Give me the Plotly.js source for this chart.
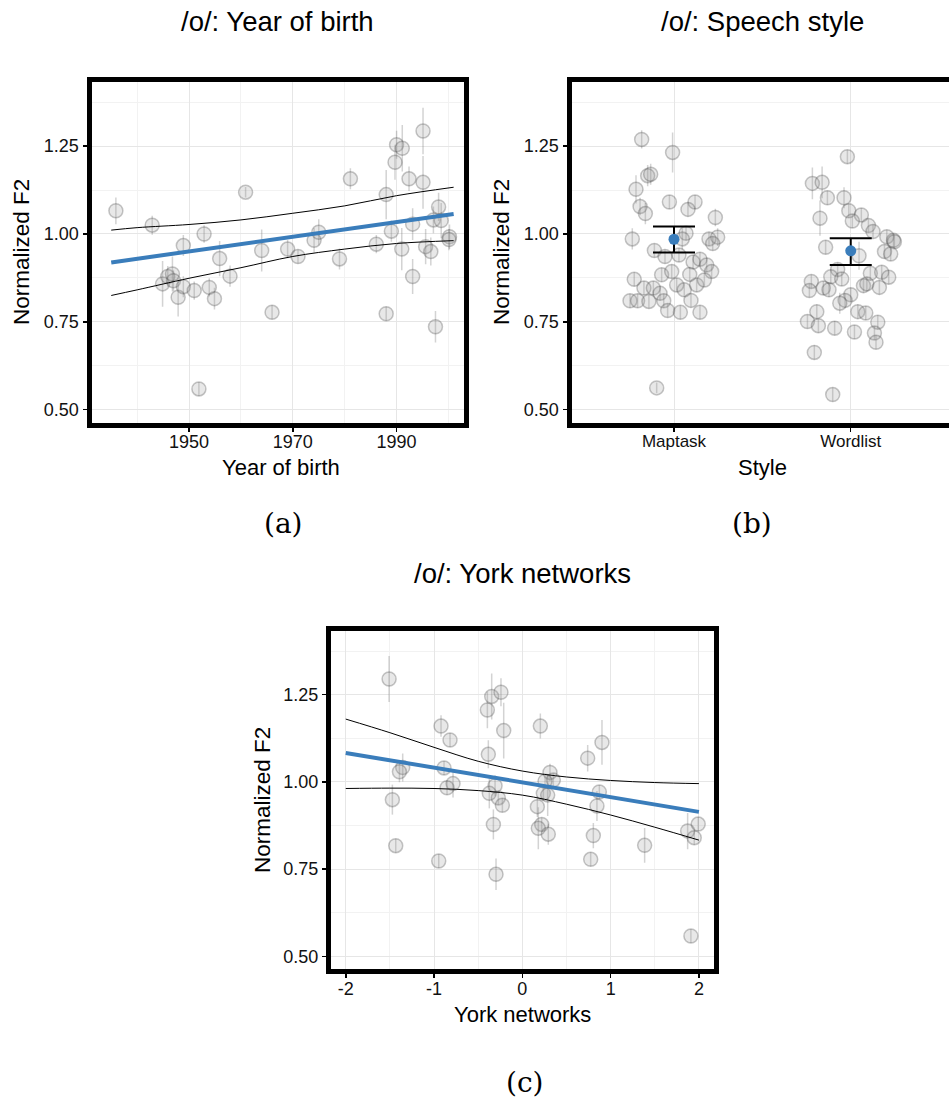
<!DOCTYPE html>
<html>
<head>
<meta charset="utf-8">
<script src="https://cdn.plot.ly/plotly-3.0.1.min.js"></script>
<style>html,body{margin:0;padding:0;background:#fff}#chart{width:949px;height:1102px}</style>
</head>
<body>
<div id="chart"></div>
<script>
// ---------- Panel (a): Year of birth ----------
const yobYear = [1935.9, 1942.9, 1944.9, 1945.9, 1946.8, 1947.0, 1947.9, 1948.9, 1948.9, 1951.0,
  1951.9, 1952.9, 1953.9, 1954.9, 1955.9, 1957.9, 1960.9, 1964.0, 1966.0, 1969.0,
  1971.0, 1974.1, 1975.0, 1979.0, 1981.1, 1986.1, 1988.0, 1988.0, 1989.0, 1989.7,
  1990.0, 1991.1, 1991.0, 1992.4, 1993.1, 1993.1, 1995.1, 1995.1, 1995.6, 1996.6,
  1997.1, 1997.5, 1998.1, 1998.6, 2000.2, 2000.1];
const yobF2 = [1.066, 1.025, 0.858, 0.879, 0.886, 0.867, 0.820, 0.967, 0.850, 0.839,
  0.559, 1.000, 0.848, 0.816, 0.930, 0.880, 1.119, 0.953, 0.777, 0.957,
  0.936, 0.982, 1.005, 0.929, 1.157, 0.971, 1.112, 0.773, 1.008, 1.204,
  1.254, 1.244, 0.957, 1.157, 1.028, 0.879, 1.293, 1.147, 0.964, 0.950,
  1.040, 0.736, 1.077, 1.038, 0.992, 0.984];
const yobErr = [0.038, 0.027, 0.065, 0.030, 0.050, 0.030, 0.055, 0.030, 0.030, 0.026,
  0.020, 0.025, 0.026, 0.031, 0.050, 0.030, 0.015, 0.060, 0.020, 0.026,
  0.020, 0.035, 0.037, 0.030, 0.030, 0.026, 0.070, 0.020, 0.030, 0.050,
  0.040, 0.066, 0.060, 0.035, 0.045, 0.050, 0.066, 0.075, 0.050, 0.040,
  0.038, 0.045, 0.040, 0.050, 0.035, 0.030];
const yobFitX = [1935, 2001];
const yobFitY = [0.919, 1.057];
const yobCiX = [1935, 1940, 1950, 1960, 1970, 1980, 1990, 2001];
const yobCiUpper = [1.011, 1.018, 1.027, 1.040, 1.059, 1.080, 1.109, 1.133];
const yobCiLower = [0.825, 0.841, 0.874, 0.904, 0.936, 0.957, 0.973, 0.981];

// ---------- Panel (b): Speech style ----------
const styleCategories = ['Maptask', 'Wordlist'];
const maptaskJitter = [-0.183, -0.008, -0.149, -0.132, -0.215, -0.026, 0.119, -0.192, -0.162, 0.079,
  0.234, -0.236, 0.068, 0.047, 0.198, 0.247, 0.219, -0.111, -0.051, 0.028,
  0.108, 0.147, 0.185, 0.213, -0.070, -0.013, 0.089, -0.225, -0.170, -0.117,
  -0.079, 0.015, 0.058, 0.128, 0.172, -0.249, -0.206, -0.142, -0.058, 0.096,
  -0.036, 0.036, 0.147, -0.098];
const maptaskF2 = [1.269, 1.232, 1.166, 1.170, 1.127, 1.091, 1.091, 1.078, 1.058, 1.070,
  1.047, 0.986, 1.002, 0.986, 0.986, 0.991, 0.973, 0.953, 0.936, 0.940,
  0.920, 0.928, 0.912, 0.893, 0.884, 0.893, 0.885, 0.871, 0.846, 0.846,
  0.831, 0.855, 0.841, 0.855, 0.869, 0.810, 0.810, 0.808, 0.810, 0.811,
  0.782, 0.777, 0.777, 0.562];
const maptaskErr = [0.026, 0.057, 0.030, 0.030, 0.040, 0.020, 0.020, 0.025, 0.030, 0.020,
  0.025, 0.030, 0.020, 0.030, 0.020, 0.025, 0.020, 0.020, 0.020, 0.020,
  0.020, 0.020, 0.020, 0.020, 0.020, 0.020, 0.020, 0.020, 0.020, 0.020,
  0.020, 0.020, 0.020, 0.020, 0.020, 0.020, 0.020, 0.020, 0.020, 0.020,
  0.020, 0.020, 0.020, 0.015];
const wordlistJitter = [-0.019, -0.217, -0.162, -0.132, -0.038, -0.011, 0.060, 0.009, -0.174, 0.100,
  0.126, 0.204, 0.242, 0.247, -0.142, 0.191, 0.226, 0.047, -0.074, -0.113,
  -0.051, 0.111, 0.175, 0.215, -0.223, -0.234, -0.155, -0.123, 0.072, 0.091,
  0.162, 0.000, -0.032, -0.062, -0.192, 0.040, 0.085, -0.245, -0.183, -0.091,
  0.021, 0.153, 0.134, 0.143, -0.206, -0.102];
const wordlistF2 = [1.220, 1.144, 1.147, 1.103, 1.103, 1.066, 1.054, 1.037, 1.045, 1.024,
  1.007, 0.992, 0.982, 0.978, 0.962, 0.950, 0.943, 0.938, 0.899, 0.878,
  0.872, 0.888, 0.891, 0.877, 0.865, 0.839, 0.846, 0.841, 0.853, 0.858,
  0.848, 0.827, 0.811, 0.803, 0.779, 0.779, 0.775, 0.751, 0.739, 0.732,
  0.721, 0.749, 0.718, 0.692, 0.663, 0.543];
const wordlistErr = [0.020, 0.045, 0.045, 0.020, 0.030, 0.020, 0.020, 0.020, 0.050, 0.020,
  0.020, 0.020, 0.020, 0.020, 0.020, 0.020, 0.020, 0.040, 0.020, 0.020,
  0.020, 0.020, 0.020, 0.020, 0.020, 0.020, 0.020, 0.020, 0.020, 0.020,
  0.020, 0.020, 0.020, 0.030, 0.020, 0.020, 0.020, 0.020, 0.020, 0.020,
  0.020, 0.020, 0.020, 0.020, 0.020, 0.020];
const styleMean = [0.985, 0.952];
const styleCiLow = [0.947, 0.912];
const styleCiHigh = [1.021, 0.988];

// ---------- Panel (c): York networks ----------
const netX = [-1.509, -0.347, -0.242, -0.396, -0.921, 0.204, -0.211, -0.819, 0.902, -0.385,
  0.740, -1.355, -1.392, -0.887, 0.313, 0.351, 0.257, -0.785, -0.853, -0.309,
  -0.374, -0.272, -0.226, 0.238, 0.287, 0.872, -1.472, 0.170, 0.845, -0.328,
  0.219, 0.181, 0.294, 0.804, 1.872, 1.947, 1.992, -1.434, 1.385, -0.947,
  0.774, -0.298, 1.909];
const netF2 = [1.295, 1.245, 1.257, 1.206, 1.160, 1.160, 1.147, 1.120, 1.113, 1.079,
  1.068, 1.041, 1.029, 1.040, 1.027, 1.005, 1.002, 0.995, 0.983, 0.989,
  0.967, 0.954, 0.933, 0.967, 0.962, 0.971, 0.949, 0.929, 0.931, 0.878,
  0.878, 0.867, 0.850, 0.846, 0.859, 0.840, 0.879, 0.817, 0.818, 0.773,
  0.778, 0.735, 0.558];
const netErr = [0.066, 0.066, 0.040, 0.052, 0.031, 0.036, 0.080, 0.020, 0.064, 0.040,
  0.038, 0.040, 0.030, 0.020, 0.025, 0.020, 0.020, 0.040, 0.020, 0.030,
  0.043, 0.020, 0.020, 0.020, 0.060, 0.020, 0.043, 0.030, 0.043, 0.043,
  0.020, 0.060, 0.030, 0.036, 0.052, 0.020, 0.020, 0.020, 0.050, 0.020,
  0.020, 0.045, 0.020];
const netTickVals = [-2, -1, 0, 1, 2];
const netTickText = ['-2', '-1', '0', '1', '2'];
const netFitX = [-2, 2];
const netFitY = [1.083, 0.914];
const netCiX = [-2, -1.5, -1, -0.5, 0, 0.5, 1, 1.5, 2];
const netCiUpper = [1.180, 1.141, 1.099, 1.059, 1.031, 1.014, 1.004, 0.998, 0.995];
const netCiLower = [0.981, 0.982, 0.981, 0.975, 0.962, 0.936, 0.905, 0.870, 0.833];

// ---------- styles ----------
const W = 949, H = 1102;
const FONT = 'Liberation Sans, Arial, Helvetica, sans-serif';
const SERIF = 'DejaVu Serif, Liberation Serif, serif';
const BLUE = '#3a7dbb';
const ptMarker = {size: 14, color: 'rgba(150,150,150,0.22)', line: {color: 'rgba(70,70,70,0.3)', width: 1.5}};
const ptErr = (arr) => ({type: 'data', array: arr, visible: true, color: 'rgba(110,110,110,0.3)', thickness: 1.5, width: 0});

function pts(x, y, err, xa, ya) {
  return {type: 'scatter', mode: 'markers', x: x, y: y, xaxis: xa, yaxis: ya,
    marker: ptMarker, error_y: ptErr(err), hoverinfo: 'skip'};
}
function line(x, y, xa, ya, color, width, shape) {
  return {type: 'scatter', mode: 'lines', x: x, y: y, xaxis: xa, yaxis: ya,
    line: {color: color, width: width, shape: shape || 'linear', smoothing: 1}, hoverinfo: 'skip'};
}

const traces = [];
traces.push(pts(yobYear, yobF2, yobErr, 'x', 'y'));
traces.push(line(yobCiX, yobCiUpper, 'x', 'y', '#000', 1, 'spline'));
traces.push(line(yobCiX, yobCiLower, 'x', 'y', '#000', 1, 'spline'));
traces.push(line(yobFitX, yobFitY, 'x', 'y', BLUE, 4));

traces.push(pts(maptaskJitter.map(j => styleCategories.indexOf('Maptask') + j), maptaskF2, maptaskErr, 'x2', 'y2'));
traces.push(pts(wordlistJitter.map(j => styleCategories.indexOf('Wordlist') + j), wordlistF2, wordlistErr, 'x2', 'y2'));
traces.push({type: 'scatter', mode: 'markers', x: styleCategories.map((c, i) => i), y: styleMean,
  xaxis: 'x2', yaxis: 'y2', hoverinfo: 'skip',
  marker: {size: 11, color: BLUE},
  error_y: {type: 'data', symmetric: false,
    array: styleCiHigh.map((v, i) => v - styleMean[i]),
    arrayminus: styleMean.map((v, i) => v - styleCiLow[i]),
    color: '#000', thickness: 2, width: 21}});

traces.push(pts(netX, netF2, netErr, 'x3', 'y3'));
traces.push(line(netCiX, netCiUpper, 'x3', 'y3', '#000', 1, 'spline'));
traces.push(line(netCiX, netCiLower, 'x3', 'y3', '#000', 1, 'spline'));
traces.push(line(netFitX, netFitY, 'x3', 'y3', BLUE, 4));

const px = v => v / W;
const py = v => 1 - v / H;

const baseAxis = {
  showline: true, linecolor: '#000', linewidth: 5, mirror: true,
  ticks: 'outside', ticklen: 4, tickwidth: 1.5, tickcolor: '#000',
  showgrid: true, gridcolor: '#e6e6e6', gridwidth: 1, zeroline: false,
  tickfont: {family: FONT, size: 18, color: '#111'}
};
const minorGrid = (t0, d) => ({tick0: t0, dtick: d, showgrid: true, gridcolor: '#f2f2f2', gridwidth: 1, ticks: ''});
const yAxis = (anchor, dom) => Object.assign({}, baseAxis, {
  anchor: anchor, domain: dom, range: [0.4635, 1.4325], tick0: 0.5, dtick: 0.25, tickformat: '.2f',
  minor: minorGrid(0.5, 0.125)
});

const domAB = [py(422.5), py(82)];
const domC = [py(969), py(631)];

const layout = {
  width: W, height: H, margin: {l: 0, r: 0, t: 0, b: 0},
  paper_bgcolor: '#fff', plot_bgcolor: '#fff', showlegend: false,
  xaxis: Object.assign({}, baseAxis, {anchor: 'y', domain: [px(91.5), px(463.5)], range: [1931.2, 2002.9],
    tick0: 1950, dtick: 20, minor: minorGrid(1950, 10), ticklabelstandoff: -5}),
  yaxis: yAxis('x', domAB),
  xaxis2: Object.assign({}, baseAxis, {anchor: 'y2', domain: [px(571.5), 1], range: [-0.58, 1.556],
    tickmode: 'array', tickvals: styleCategories.map((c, i) => i), ticktext: styleCategories,
    tickfont: {family: FONT, size: 17, color: '#111'}, ticklabelstandoff: -5}),
  yaxis2: yAxis('x2', domAB),
  xaxis3: Object.assign({}, baseAxis, {anchor: 'y3', domain: [px(331), px(713.5)], range: [-2.167, 2.165],
    tickmode: 'array', tickvals: netTickVals, ticktext: netTickText, minor: minorGrid(0, 0.5), ticklabelstandoff: -5}),
  yaxis3: yAxis('x3', domC),
  annotations: []
};

function txt(text, x, y, size, opts) {
  layout.annotations.push(Object.assign({text: text, x: px(x), y: py(y), xref: 'paper', yref: 'paper',
    xanchor: 'center', yanchor: 'middle', showarrow: false,
    font: {family: FONT, size: size, color: '#000'}}, opts || {}));
}
txt('/o/: Year of birth', 277, 22, 27.5);
txt('/o/: Speech style', 762, 22, 27.5);
txt('/o/: York networks', 522, 573, 27.5);
txt('Year of birth', 281, 467, 22);
txt('Style', 762, 467, 22);
txt('York networks', 522, 1014, 22);
txt('Normalized F2', 22, 252, 22.5, {textangle: -90});
txt('Normalized F2', 502, 252, 22.5, {textangle: -90});
txt('Normalized F2', 262, 800, 22.5, {textangle: -90});
txt('(a)', 283, 523, 28, {font: {family: SERIF, size: 28, color: '#000'}});
txt('(b)', 752, 523, 28, {font: {family: SERIF, size: 28, color: '#000'}});
txt('(c)', 525, 1082, 28, {font: {family: SERIF, size: 28, color: '#000'}});

Plotly.newPlot('chart', traces, layout, {staticPlot: true, displayModeBar: false});
</script>
</body>
</html>
